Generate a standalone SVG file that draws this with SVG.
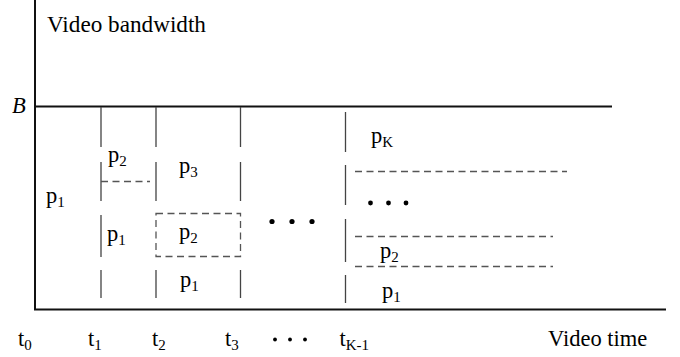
<svg xmlns="http://www.w3.org/2000/svg" width="680" height="357" viewBox="0 0 680 357">
<style>
text{font-family:"Liberation Serif","Times New Roman",serif;font-size:22.5px;fill:#000}
.sub{font-size:15px}
.axis{stroke:#111;stroke-width:2;fill:none}
.seg{stroke:#444;stroke-width:1.3;fill:none}
.dash{stroke:#555;stroke-width:1.3;fill:none;stroke-dasharray:7 4.5}
.dot{fill:#000}
</style>
<rect width="680" height="357" fill="#fff"/>
<g id="axes">
<line class="axis" x1="35" y1="0" x2="35" y2="310"/>
<line class="axis" x1="34" y1="309.5" x2="666" y2="309.5"/>
<line class="axis" x1="35" y1="106.5" x2="612" y2="106.5"/>
<text x="47" y="32" style="font-size:23.2px">Video bandwidth</text>
<text x="12" y="113" font-style="italic">B</text>
<text x="548" y="346">Video time</text>
</g>
<g id="connectors">
<path class="seg" d="M101,107V147M101,162V201M101,215V257M101,270V298"/>
<path class="seg" d="M156,107V147M156,162V201M156,270V298"/>
<path class="seg" d="M240.5,107V147M240.5,162V201M240.5,270V298"/>
<path class="seg" d="M345.5,112V152M345.5,165V205M345.5,219V262M345.5,275V303"/>
<path class="dash" d="M101,181.5H150"/>
<rect class="dash" x="156" y="213.5" width="84.5" height="43"/>
<path class="dash" d="M355,171.5H567"/>
<path class="dash" d="M355,236.5H553"/>
<path class="dash" d="M355,266.5H553"/>
</g>
<g id="labels-chart">
<text x="46" y="203">p<tspan class="sub" dy="4">1</tspan></text>
<text x="108" y="162">p<tspan class="sub" dy="4">2</tspan></text>
<text x="107" y="241">p<tspan class="sub" dy="4">1</tspan></text>
<text x="179" y="173">p<tspan class="sub" dy="4">3</tspan></text>
<text x="179" y="239">p<tspan class="sub" dy="4">2</tspan></text>
<text x="180" y="287">p<tspan class="sub" dy="4">1</tspan></text>
<text x="371" y="142.5">p<tspan class="sub" dy="4">K</tspan></text>
<text x="380" y="258">p<tspan class="sub" dy="4">2</tspan></text>
<text x="382" y="298">p<tspan class="sub" dy="4">1</tspan></text>
<circle class="dot" cx="272" cy="221.5" r="2.6"/>
<circle class="dot" cx="292" cy="221.5" r="2.6"/>
<circle class="dot" cx="312" cy="221.5" r="2.6"/>
<circle class="dot" cx="370.5" cy="203" r="2.4"/>
<circle class="dot" cx="388.5" cy="203" r="2.4"/>
<circle class="dot" cx="406" cy="203" r="2.4"/>
</g>
<g id="labels-time">
<text x="18" y="346">t<tspan class="sub" dy="4">0</tspan></text>
<text x="88" y="346">t<tspan class="sub" dy="4">1</tspan></text>
<text x="152" y="346">t<tspan class="sub" dy="4">2</tspan></text>
<text x="225" y="346">t<tspan class="sub" dy="4">3</tspan></text>
<text x="339.5" y="346">t<tspan class="sub" dy="4">K-1</tspan></text>
<circle class="dot" cx="275" cy="339.5" r="1.9"/>
<circle class="dot" cx="290" cy="339.5" r="1.9"/>
<circle class="dot" cx="305" cy="339.5" r="1.9"/>
</g>
</svg>
